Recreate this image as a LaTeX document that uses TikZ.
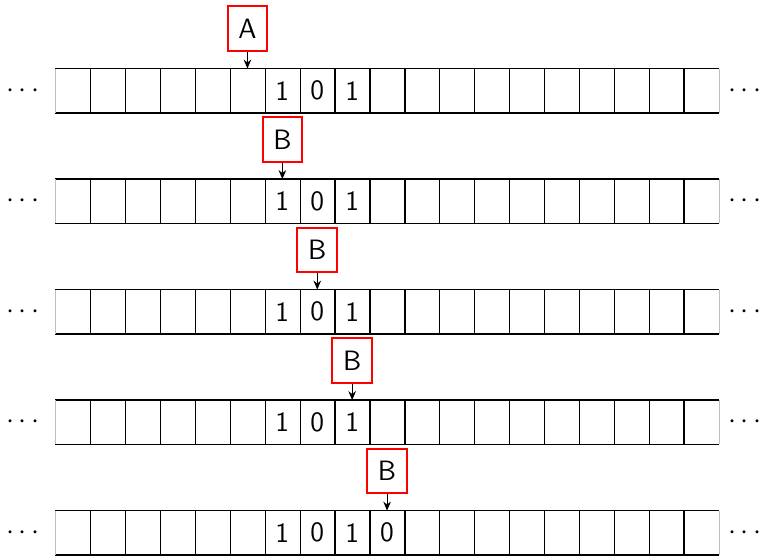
\documentclass[tikz,border=0pt]{standalone}
\usetikzlibrary{arrows.meta}
\begin{document}
\begin{tikzpicture}[x=0.5pt,y=-0.5pt,
  font=\sffamily\fontsize{14}{16}\selectfont,
  cellbox/.style={rectangle,inner sep=0pt,minimum width=17.45pt,minimum height=21.75pt},
  headbox/.style={rectangle,draw=red,line width=1pt,inner sep=0pt,minimum width=19.8pt,minimum height=22.2pt},
  tapeline/.style={line width=0.65pt,black},
  tapeend/.style={line width=0.5pt,black!25},
  headarrow/.style={line width=0.5pt,-{Stealth[length=4.5pt,width=3.8pt]}},
  dotsnode/.style={inner sep=0pt}]
\useasboundingbox (0,0) rectangle (763,555);
% tapes
\foreach \r/\t in {1/69,2/179.5,3/290,4/400.5,5/511}{
  \foreach \i in {0,...,18}{
    \node[cellbox] (c\r-\i) at ({55.5+34.9*(\i+0.5)},{\t+21.75}) {};
  }
  \draw[tapeline] (c\r-0.north west) -- (c\r-18.north east);
  \draw[tapeline] (c\r-0.south west) -- (c\r-18.south east);
  \foreach \i in {0,...,17}{
    \draw[tapeline] (c\r-\i.north east) -- (c\r-\i.south east);
  }
  \draw[tapeend] (c\r-0.north west) -- (c\r-0.south west);
  \draw[tapeend] (c\r-18.north east) -- (c\r-18.south east);
  \node[dotsnode] (l\r) at (23,{\t+21.75}) {$\cdots$};
  \node[dotsnode] (r\r) at (745,{\t+21.75}) {$\cdots$};
  \node at (c\r-6) {1};
  \node at (c\r-7) {0};
  \node at (c\r-8) {1};
}
\node at (c5-9) {0};
% heads
\node[headbox] (hA) at ({55.5+34.9*5.5},28.7) {A};
\node[headbox] (hB2) at ({55.5+34.9*6.5},139.5) {B};
\node[headbox] (hB3) at ({55.5+34.9*7.5},250) {B};
\node[headbox] (hB4) at ({55.5+34.9*8.5},360.5) {B};
\node[headbox] (hB5) at ({55.5+34.9*9.5},471) {B};
\draw[headarrow] (hA.south) -- (c1-5.north);
\draw[headarrow] (hB2.south) -- (c2-6.north);
\draw[headarrow] (hB3.south) -- (c3-7.north);
\draw[headarrow] (hB4.south) -- (c4-8.north);
\draw[headarrow] (hB5.south) -- (c5-9.north);
\end{tikzpicture}
\end{document}
